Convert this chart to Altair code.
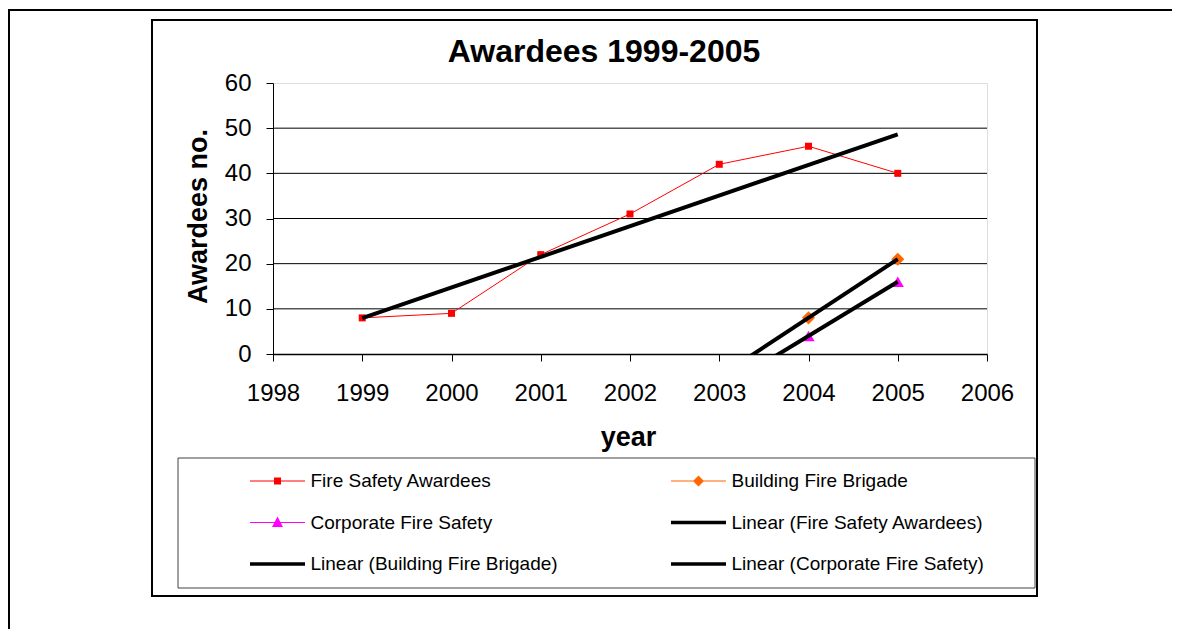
import altair as alt
import pandas as pd

# ---------------- data ----------------
years = [1999, 2000, 2001, 2002, 2003, 2004, 2005]
fire_safety = [8, 9, 22, 31, 42, 46, 40]
building_years = [2004, 2005]
building = [8, 21]
corporate_years = [2004, 2005]
corporate = [4, 16]

series_names = [
    "Fire Safety Awardees",
    "Building Fire Brigade",
    "Corporate Fire Safety",
    "Linear (Fire Safety Awardees)",
    "Linear (Building Fire Brigade)",
    "Linear (Corporate Fire Safety)",
]
series_colors = ["#FF0000", "#FF6600", "#FF00FF", "#000000", "#000000", "#000000"]
x_ticks = [1998, 1999, 2000, 2001, 2002, 2003, 2004, 2005, 2006]
y_ticks = [0, 10, 20, 30, 40, 50, 60]
grid_values = [10, 20, 30, 40, 50]

fs_df = pd.DataFrame({"year": years, "value": fire_safety, "series": series_names[0]})
bfb_df = pd.DataFrame({"year": building_years, "value": building, "series": series_names[1]})
cfs_df = pd.DataFrame({"year": corporate_years, "value": corporate, "series": series_names[2]})
all_df = pd.concat([fs_df, bfb_df, cfs_df], ignore_index=True)
grid_df = pd.DataFrame({"value": grid_values})
one = pd.DataFrame({"k": [0]})

FONT = "Liberation Sans"
LEGEND_FONT = "Liberation Sans"

# legend symbols: line segment + marker (custom svg paths)
line_thin = "M-2.5,-0.045H2.5V0.045H-2.5Z "
shape_paths = [
    line_thin + "M-0.32,-0.32H0.32V0.32H-0.32Z",
    line_thin + "M0,-0.5L0.5,0L0,0.5L-0.5,0Z",
    line_thin + "M0,-0.55L0.5,0.4L-0.5,0.4Z",
    "M-2.5,-0.17H2.5V0.17H-2.5Z",
    "M-2.5,-0.17H2.5V0.17H-2.5Z",
    "M-2.5,-0.17H2.5V0.17H-2.5Z",
]

xs = alt.Scale(domain=[1998, 2006], nice=False, zero=False)
ys = alt.Scale(domain=[0, 60], nice=False)

X = alt.X(
    "year:Q",
    scale=xs,
    axis=alt.Axis(
        values=x_ticks, format="d", grid=False,
        domainColor="black", domainWidth=1.5,
        tickColor="black", tickSize=7, tickWidth=1,
        labelFont=FONT, labelFontSize=24, labelColor="black",
        labelBaseline="alphabetic", labelPadding=39, labelFlush=False,
        title="year", titleFont=FONT, titleFontSize=27, titleFontWeight="bold",
        titleColor="black", titleBaseline="alphabetic", titleX=355, titleY=91,
        titleAnchor="middle",
    ),
)
Y = alt.Y(
    "value:Q",
    scale=ys,
    axis=alt.Axis(
        values=y_ticks, grid=False,
        domainColor="black", domainWidth=1,
        tickColor="black", tickSize=7, tickWidth=1,
        labelFont=FONT, labelFontSize=24, labelColor="black",
        labelPadding=15, labelFlush=False,
        title="Awardees no.", titleFont=FONT, titleFontSize=27,
        titleFontWeight="bold", titleColor="black",
        titleAngle=270, titleBaseline="alphabetic", titleAlign="center",
        titleX=-67, titleY=133,
    ),
)

legend_def = alt.Legend(
    title=None, orient="none", legendX=-23, legendY=387,
    direction="horizontal",
    columns=2, columnPadding=113, rowPadding=20.5,
    symbolSize=484, symbolStrokeWidth=0, symbolOffset=16.5, symbolOpacity=1,
    labelOffset=22, labelFont=LEGEND_FONT, labelFontSize=19,
    labelColor="black", labelLimit=500, labelBaseline="middle",
)

# frames (decoration)
outer_top = alt.Chart(one).mark_rule(color="black", strokeWidth=2).encode(
    x=alt.value(-265), x2=alt.value(900), y=alt.value(-73)
)
outer_left = alt.Chart(one).mark_rule(color="black", strokeWidth=2).encode(
    x=alt.value(-264), y=alt.value(-74), y2=alt.value(560)
)
inner_frame = alt.Chart(one).mark_rect(filled=False, stroke="black", strokeWidth=2).encode(
    x=alt.value(-121), x2=alt.value(764), y=alt.value(-63), y2=alt.value(513)
)
legend_box = alt.Chart(one).mark_rect(fill="white", stroke="#404040", strokeWidth=1).encode(
    x=alt.value(-95), x2=alt.value(762), y=alt.value(375), y2=alt.value(505)
)

grid = alt.Chart(grid_df).mark_rule(color="black", strokeWidth=1).encode(y=Y)

fs_line = alt.Chart(fs_df).mark_line(color="#FF0000", strokeWidth=1).encode(x=X, y=Y)
fs_pts = alt.Chart(fs_df).mark_point(shape="square", filled=True, size=49, color="#FF0000", opacity=1).encode(x=X, y=Y)
bfb_line = alt.Chart(bfb_df).mark_line(color="#FF6600", strokeWidth=1).encode(x=X, y=Y)
bfb_pts = alt.Chart(bfb_df).mark_point(shape="diamond", filled=True, size=170, color="#FF6600", opacity=1).encode(x=X, y=Y)
cfs_line = alt.Chart(cfs_df).mark_line(color="#FF00FF", strokeWidth=1).encode(x=X, y=Y)
cfs_pts = alt.Chart(cfs_df).mark_point(shape="triangle-up", filled=True, size=150, color="#FF00FF", opacity=1).encode(x=X, y=Y)

fs_trend = alt.Chart(fs_df).transform_regression(
    "year", "value", extent=[1999, 2005]
).mark_line(color="black", strokeWidth=4, clip=True).encode(x=X, y=Y)
bfb_trend = alt.Chart(bfb_df).transform_regression(
    "year", "value", extent=[2003, 2005]
).mark_line(color="black", strokeWidth=4, clip=True).encode(x=X, y=Y)
cfs_trend = alt.Chart(cfs_df).transform_regression(
    "year", "value", extent=[2003, 2005]
).mark_line(color="black", strokeWidth=4, clip=True).encode(x=X, y=Y)

legend_layer = alt.Chart(all_df).transform_filter("false").mark_point(
    filled=True, opacity=1, size=484
).encode(
    x=X, y=Y,
    color=alt.Color("series:N", scale=alt.Scale(domain=series_names, range=series_colors), legend=legend_def),
    shape=alt.Shape("series:N", scale=alt.Scale(domain=series_names, range=shape_paths), legend=legend_def),
)

chart = alt.layer(
    outer_top, outer_left, inner_frame, legend_box,
    grid,
    fs_line, fs_pts, bfb_line, bfb_pts, cfs_line, cfs_pts,
    fs_trend, bfb_trend, cfs_trend,
    legend_layer,
).properties(
    width=714,
    height=271,
    title=alt.TitleParams(
        text="Awardees 1999-2005", font=FONT, fontSize=32, fontWeight="bold",
        color="black", anchor="middle", dx=-26, dy=86, offset=0, baseline="alphabetic",
        frame="group",
    ),
    autosize=alt.AutoSizeParams(type="none"),
    padding={"left": 265, "top": 75, "right": 185, "bottom": 275},
).configure_view(
    fill="#C0C0C0", stroke="#808080", strokeWidth=2
).configure(background="white")

chart.save("out.html", embed_options={"renderer": "svg", "actions": False})
